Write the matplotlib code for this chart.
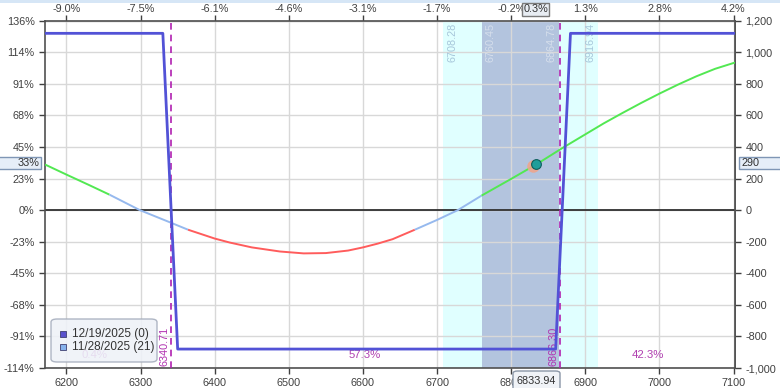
import matplotlib
matplotlib.use('Agg')
import matplotlib.pyplot as plt
from matplotlib.patches import FancyBboxPatch, Rectangle

# ---------------- data ----------------
exp_label = '12/19/2025 (0)'
t21_label = '11/28/2025 (21)'

exp_price = [6171, 6330, 6350, 6860, 6880, 7102]
exp_pnl = [1120, 1120, -880, -880, 1120, 1120]

t21_price = [6171, 6200, 6230, 6258, 6299, 6320, 6340, 6364, 6400, 6420, 6450,
             6488, 6520, 6550, 6580, 6600, 6620, 6640, 6670, 6700, 6728, 6760,
             6800, 6834, 6869, 6900, 6925, 6950, 6975, 7000, 7025, 7050, 7075,
             7102]
t21_pnl = [289, 225, 160, 98, 0, -40, -78, -124, -180, -205, -236,
           -262, -274, -272, -256, -236, -212, -184, -124, -62, 0, 92,
           198, 290, 393, 480, 550, 615, 678, 738, 795, 848, 895,
           935]

zone_breaks = [6258, 6364, 6670, 6760]
zone_colors = ['#52e852', '#96b9ee', '#ff5c5c', '#96b9ee', '#52e852']

sd2_range = (6708.28, 6916.94)
sd1_range = (6760.45, 6864.78)
breakevens = [6340.71, 6866.30]

prob_labels = ['0.4%', '57.3%', '42.3%']
prob_x = [6238, 6603, 6984]

current_price = 6833.94
current_pnl = 290
current_move = '0.3%'
current_pnl_pct = '33%'

x_ticks = [6200, 6300, 6400, 6500, 6600, 6700, 6800, 6900, 7000, 7100]
top_labels = ['-9.0%', '-7.5%', '-6.1%', '-4.6%', '-3.1%', '-1.7%', '-0.2%',
              '1.3%', '2.8%', '4.2%']
y_ticks = [-1000, -800, -600, -400, -200, 0, 200, 400, 600, 800, 1000, 1200]
max_risk = 880

# ---------------- figure ----------------
W, H = 780, 388
plt.rcParams['font.family'] = ['Liberation Sans', 'DejaVu Sans']
fig = plt.figure(figsize=(W / 100, H / 100), dpi=100)
fig.patch.set_facecolor('white')


def fx(px):
    return px / W


def fy(py):
    return 1 - py / H


L, R, T, B = 45, 735, 20.7, 368
ax = fig.add_axes([fx(L), fy(B), (R - L) / W, (B - T) / H])
ax.set_xlim(6171, 7102)
ax.set_ylim(-1000, 1200)

tick_col = '#404040'
fs = 7.8

# shading
ax.axvspan(*sd2_range, color='#e0ffff', zorder=0.1, lw=0)
ax.axvspan(*sd1_range, color='#b3c4de', zorder=0.2, lw=0)

# grid
ax.set_axisbelow(True)
ax.grid(True, color='#d8d8d8', lw=1)
ax.set_xticks(x_ticks)
ax.set_yticks(y_ticks)
ax.set_xticklabels([str(v) for v in x_ticks])
ax.set_yticklabels([f'{round(v / max_risk * 100)}%' for v in y_ticks])
ax.tick_params(axis='both', labelsize=fs, colors=tick_col, length=4, width=1)

for s in ax.spines.values():
    s.set_color('#505050')
    s.set_linewidth(1.2)

# top axis
top = ax.secondary_xaxis('top')
top.set_ticks(x_ticks)
top.set_xticklabels(top_labels)
top.tick_params(labelsize=fs, colors=tick_col, length=4, width=1, pad=1)
top.spines['top'].set_color('#505050')

# right axis
right = ax.secondary_yaxis('right')
right.set_ticks(y_ticks)
right.set_yticklabels([f'{v:,}' for v in y_ticks])
right.tick_params(labelsize=fs, colors=tick_col, length=4, width=1)
right.spines['right'].set_color('#505050')
right.spines['right'].set_linewidth(1.2)

# zero line
ax.axhline(0, color='#303030', lw=1.3, zorder=2)

# shading labels
lab_y = 1186
ax.text(sd2_range[0] + 6, lab_y, f'{sd2_range[0]:.2f}', rotation=90, ha='left', va='top',
        fontsize=fs, color='#a6c6da', zorder=1)
ax.text(sd1_range[0] + 5, lab_y, f'{sd1_range[0]:.2f}', rotation=90, ha='left', va='top',
        fontsize=fs, color='#d6dfec', zorder=1)
ax.text(sd1_range[1] - 3, lab_y, f'{sd1_range[1]:.2f}', rotation=90, ha='right', va='top',
        fontsize=fs, color='#d6dfec', zorder=1)
ax.text(sd2_range[1] - 3, lab_y, f'{sd2_range[1]:.2f}', rotation=90, ha='right', va='top',
        fontsize=fs, color='#a6c6da', zorder=1)

# breakeven lines
for be in breakevens:
    ax.axvline(be, color='#b020b0', ls=(0, (4, 3)), lw=1.2, zorder=3)
    ax.text(be - 2, -985, f'{be:.2f}', rotation=90, ha='right', va='bottom',
            fontsize=fs, color='#b030b0', zorder=3)

# T+21 line split into coloured zones
bounds = [t21_price[0]] + zone_breaks + [t21_price[-1]]
for i, col in enumerate(zone_colors):
    lo, hi = bounds[i], bounds[i + 1]
    xs = [p for p in t21_price if lo <= p <= hi]
    ys = [v for p, v in zip(t21_price, t21_pnl) if lo <= p <= hi]
    ax.plot(xs, ys, color=col, lw=1.4, zorder=4, solid_capstyle='butt')

# expiration line
ax.plot(exp_price, exp_pnl, color='#5252d6', lw=2.0, zorder=5)

# current marker
ax.plot(current_price - 4, current_pnl - 12, 'o', ms=9, color='#f2a488', alpha=0.85,
        mec='none', zorder=6)
ax.plot(current_price, current_pnl, 'o', ms=7, color='#1f9e9a', mec='#0d5f5c', mew=0.8,
        zorder=7)

# probability labels
for x, t in zip(prob_x, prob_labels):
    ax.text(x, -919, t, ha='center', va='center', fontsize=fs + 0.4, color='#b040b0', zorder=3)

# legend (manual)
leg = FancyBboxPatch((fx(51), fy(362)), fx(106), 43 / H,
                     boxstyle='round,pad=0,rounding_size=0.008', transform=fig.transFigure,
                     facecolor='#eef2f8', edgecolor='#a4acbc', lw=1, alpha=0.88, zorder=10)
fig.patches.append(leg)
for py, col, lab in [(334, '#5a52cc', exp_label), (347, '#86b2ec', t21_label)]:
    sq = Rectangle((fx(60), fy(py + 3)), 6 / W, 6 / H, transform=fig.transFigure,
                   facecolor=col, edgecolor='#404070', lw=0.6, zorder=11)
    fig.patches.append(sq)
    fig.text(fx(72), fy(py), lab, ha='left', va='center', fontsize=8.5, color='#333333',
             zorder=12)

# hover boxes
def box(x0, y0, w, h, text, tx, ha, fc='#e6eef8', ec='#7f96b5', rounded=False):
    style = 'round,pad=0,rounding_size=0.006' if rounded else 'square,pad=0'
    p = FancyBboxPatch((fx(x0), fy(y0 + h)), w / W, h / H, boxstyle=style,
                       transform=fig.transFigure, facecolor=fc, edgecolor=ec, lw=1,
                       zorder=20)
    fig.patches.append(p)
    fig.text(fx(tx), fy(y0 + h / 2), text, ha=ha, va='center', fontsize=fs,
             color='#303030', zorder=21)

box(-2, 157, 43, 12, current_pnl_pct, 39, 'right')
box(739, 157, 45, 12, f'{current_pnl:,}', 741, 'left')
box(522, 3, 27, 13, current_move, 535.5, 'center', fc='#e8edf3', ec='#7a7a7a')
box(513, 371, 47, 20, f'{current_price:.2f}', 536.5, 'center', fc='#f0f3f7', ec='#8a96a6',
    rounded=True)

# frame decorations
fig.patches.append(Rectangle((0, fy(2.5)), 1, 2.5 / H, transform=fig.transFigure,
                             facecolor='#d6e6f6', edgecolor='none', zorder=1))

fig.savefig('out.png', dpi=100, facecolor='white')
